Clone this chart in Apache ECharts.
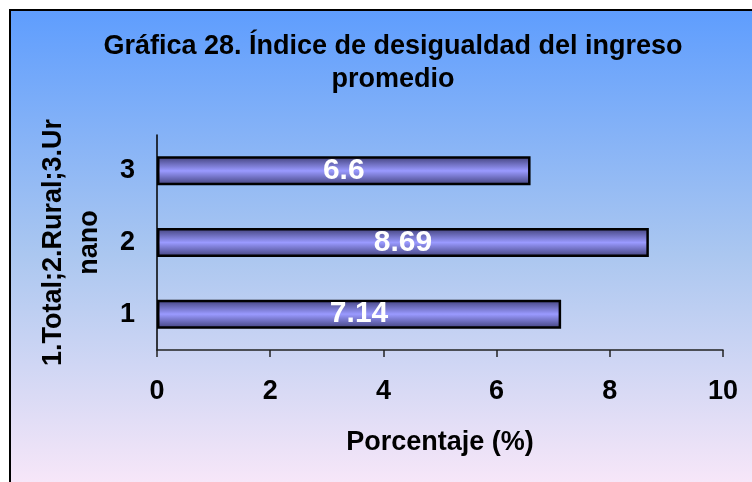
<!DOCTYPE html>
<html>
<head>
<meta charset="utf-8">
<script src="https://cdn.jsdelivr.net/npm/echarts@6/dist/echarts.min.js"></script>
<style>
  html, body { margin: 0; padding: 0; background: #fff; }
  #chart { width: 752px; height: 482px; }
</style>
</head>
<body>
<div id="chart"></div>
<script>
// categories bottom to top, 1 = Total, 2 = Rural, 3 = Urbano
const categories = ['1', '2', '3']
const values = [7.14, 8.69, 6.6]
const xTicks = [0, 2, 4, 6, 8, 10]

const font = '"Liberation Sans", Arial, sans-serif'

const chart = echarts.init(document.getElementById('chart'))

const option = {
  animation: false,
  graphic: [
    {
      type: 'rect',
      z: -10,
      silent: true,
      shape: { x: 10, y: 10, width: 760, height: 490 },
      style: {
        fill: new echarts.graphic.LinearGradient(0, 0, 0, 1, [
          { offset: 0, color: '#5e9dfe' },
          { offset: 0.5, color: '#abc7f0' },
          { offset: 1, color: '#fde9f9' }
        ]),
        stroke: '#000',
        lineWidth: 2
      }
    }
  ],
  title: {
    text: 'Gráfica 28. Índice de desigualdad del ingreso\npromedio',
    left: 388,
    top: 25,
    textAlign: 'center',
    textStyle: {
      fontFamily: font,
      fontWeight: 'bold',
      fontSize: 27,
      lineHeight: 33,
      color: '#000'
    }
  },
  grid: {
    left: 157,
    right: 29,
    top: 135,
    height: 215,
    containLabel: false
  },
  xAxis: {
    type: 'value',
    min: xTicks[0],
    max: xTicks[xTicks.length - 1],
    interval: 2,
    name: 'Porcentaje (%)',
    nameLocation: 'middle',
    nameGap: 79,
    nameTextStyle: { fontFamily: font, fontWeight: 'bold', fontSize: 27, color: '#000' },
    axisLine: { show: true, lineStyle: { color: '#222', width: 1.5 } },
    axisTick: { show: true, length: 7, lineStyle: { color: '#222', width: 1.5 } },
    splitLine: { show: false },
    axisLabel: { fontFamily: font, fontWeight: 'bold', fontSize: 27, color: '#000', margin: 28 }
  },
  yAxis: {
    type: 'category',
    data: categories,
    name: '1.Total;2.Rural;3.Ur\nnano',
    nameLocation: 'middle',
    nameRotate: 90,
    nameGap: 49,
    nameTextStyle: { fontFamily: font, fontWeight: 'bold', fontSize: 27, lineHeight: 36, color: '#000' },
    axisLine: { show: true, lineStyle: { color: '#000', width: 1.5 } },
    axisTick: { show: false },
    axisLabel: { fontFamily: font, fontWeight: 'bold', fontSize: 27, color: '#000', margin: 22 }
  },
  series: [
    {
      type: 'bar',
      data: values,
      barWidth: 29,
      itemStyle: {
        color: new echarts.graphic.LinearGradient(0, 0, 0, 1, [
          { offset: 0, color: '#3f3f78' },
          { offset: 0.5, color: '#9a9aff' },
          { offset: 1, color: '#3f3f78' }
        ]),
        borderColor: '#000',
        borderWidth: 2.5
      },
      label: {
        show: true,
        position: 'inside',
        fontFamily: font,
        fontWeight: 'bold',
        fontSize: 30,
        color: '#fff'
      }
    }
  ]
}

chart.setOption(option)
</script>
</body>
</html>
